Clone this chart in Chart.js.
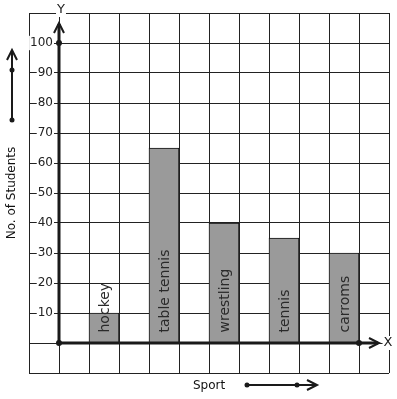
<!DOCTYPE html>
<html><head><meta charset="utf-8">
<script src="https://cdn.jsdelivr.net/npm/chart.js@4"></script>
<style>html,body{margin:0;padding:0;background:#fff;}canvas{display:block;}</style>
</head><body>
<canvas id="c" width="397" height="399"></canvas>
<script>
const categories = ['hockey', 'table tennis', 'wrestling', 'tennis', 'carroms'];
const students = [10, 65, 40, 35, 30];
const yTickLabels = [10, 20, 30, 40, 50, 60, 70, 80, 90, 100];
const xAxisTitle = 'Sport';
const yAxisTitle = 'No. of Students';

const FONT = '"DejaVu Sans", sans-serif';
const INK = '#1a1a1a';

function chevron(ctx, tx, ty, dx, dy) {
  const L = 10, W = 5;
  const px = -dy, py = dx;
  ctx.beginPath();
  ctx.moveTo(tx - dx * L + px * W, ty - dy * L + py * W);
  ctx.lineTo(tx, ty);
  ctx.lineTo(tx - dx * L - px * W, ty - dy * L - py * W);
  ctx.stroke();
}
function dot(ctx, x, y, r) {
  ctx.beginPath(); ctx.arc(x, y, r, 0, Math.PI * 2); ctx.fill();
}
function boxedText(ctx, t, x, y) {
  const w = ctx.measureText(t).width;
  ctx.save(); ctx.fillStyle = '#fff';
  ctx.fillRect(x - w / 2 - 1, y - 7, w + 2, 14);
  ctx.restore();
  ctx.fillText(t, x, y);
}

const decor = {
  id: 'decor',
  afterDatasetsDraw(chart) {
    const {ctx, chartArea: a} = chart;
    const xs = chart.scales.x, ys = chart.scales.y;
    const ox = xs.getPixelForValue(0), oy = ys.getPixelForValue(0);
    const yTop = ys.getPixelForValue(yTickLabels[yTickLabels.length - 1]);
    const xEnd = xs.getPixelForValue(10);
    ctx.save();
    const meta = chart.getDatasetMeta(0);
    ctx.fillStyle = '#2a2a2a';
    ctx.font = '14px ' + FONT;
    ctx.textAlign = 'left';
    ctx.textBaseline = 'middle';
    meta.data.forEach((bar, i) => {
      ctx.save();
      ctx.translate(bar.x + 1, bar.base - 10);
      ctx.rotate(-Math.PI / 2);
      ctx.fillText(categories[i], 0, 0);
      ctx.restore();
    });
    ctx.strokeStyle = INK; ctx.fillStyle = INK;
    ctx.lineCap = 'butt';
    ctx.lineWidth = 3;
    ctx.beginPath();
    ctx.moveTo(ox, oy); ctx.lineTo(ox, yTop - 19);
    ctx.moveTo(ox, oy); ctx.lineTo(xEnd + 19, oy);
    ctx.stroke();
    ctx.lineWidth = 2;
    chevron(ctx, ox, yTop - 20, 0, -1);
    chevron(ctx, xEnd + 20, oy, 1, 0);
    dot(ctx, ox, oy, 3);
    dot(ctx, ox, yTop, 3);
    dot(ctx, xEnd, oy, 3);
    ctx.font = '13px ' + FONT;
    ctx.textAlign = 'center';
    ctx.textBaseline = 'middle';
    boxedText(ctx, 'Y', ox + 2, a.top - 3);
    boxedText(ctx, 'X', a.right - 1, oy);
    ctx.font = '12px ' + FONT;
    ctx.fillStyle = '#111';
    ctx.save();
    ctx.translate(a.left - 17, (a.top + a.bottom) / 2);
    ctx.rotate(-Math.PI / 2);
    ctx.fillText(yAxisTitle, 0, 0);
    ctx.restore();
    ctx.fillText(xAxisTitle, (a.left + a.right) / 2, a.bottom + 13);
    ctx.fillStyle = INK;
    ctx.lineWidth = 2;
    const sx = a.left - 17;
    ctx.beginPath(); ctx.moveTo(sx, a.top + 107); ctx.lineTo(sx, a.top + 38); ctx.stroke();
    chevron(ctx, sx, a.top + 37, 0, -1);
    dot(ctx, sx, a.top + 107, 2.5);
    dot(ctx, sx, a.top + 57, 2.5);
    const sy = a.bottom + 12;
    ctx.beginPath(); ctx.moveTo(a.left + 218, sy); ctx.lineTo(a.left + 287, sy); ctx.stroke();
    chevron(ctx, a.left + 288, sy, 1, 0);
    dot(ctx, a.left + 218, sy, 2.5);
    dot(ctx, a.left + 268, sy, 2.5);
    ctx.restore();
  }
};

new Chart(document.getElementById('c'), {
  type: 'bar',
  data: {
    datasets: [{
      data: categories.map((c, i) => ({x: 2 * i + 1.5, y: students[i]})),
      backgroundColor: '#9a9a9a',
      borderColor: '#111',
      borderWidth: 1,
      categoryPercentage: 1,
      barPercentage: 1
    }]
  },
  options: {
    responsive: false,
    animation: false,
    devicePixelRatio: 1,
    layout: {padding: {left: 29, top: 13, right: 8, bottom: 26}},
    plugins: {legend: {display: false}, tooltip: {enabled: false}},
    scales: {
      x: {
        type: 'linear', min: -1, max: 11, position: 'bottom', offset: false,
        ticks: {display: false, stepSize: 1},
        grid: {color: '#222', lineWidth: 1, drawTicks: false, offset: false},
        border: {display: false}
      },
      y: {
        type: 'linear', min: -10, max: 110, position: {x: -0.2},
        ticks: {
          stepSize: 10, padding: 0, color: '#222',
          font: {family: FONT, size: 12},
          callback: v => yTickLabels.includes(v) ? String(v) : '',
          showLabelBackdrop: ctx => yTickLabels.includes(ctx.tick && ctx.tick.value),
          backdropColor: '#fff',
          backdropPadding: {left: 1, right: 1, top: 0, bottom: 0}
        },
        grid: {color: '#222', lineWidth: 1, drawTicks: false},
        border: {display: false}
      }
    }
  },
  plugins: [decor]
});
</script>
</body></html>
